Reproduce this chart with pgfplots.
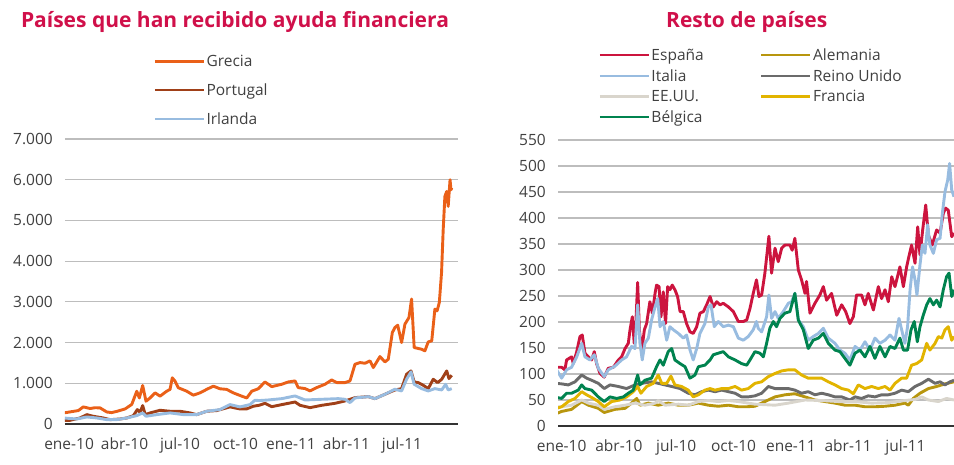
\documentclass[border=0pt]{standalone}
\usepackage{pgfplots}
\pgfplotsset{compat=1.18}
\usepackage{fontspec}
\setmainfont{Open Sans}
\definecolor{titlered}{RGB}{208,16,74}
\definecolor{grecia}{RGB}{234,96,24}
\definecolor{portugal}{RGB}{160,64,24}
\definecolor{irlanda}{RGB}{152,188,224}
\definecolor{espana}{RGB}{204,20,62}
\definecolor{italia}{RGB}{152,188,224}
\definecolor{eeuu}{RGB}{217,213,204}
\definecolor{belgica}{RGB}{0,131,79}
\definecolor{alemania}{RGB}{184,150,14}
\definecolor{reino}{RGB}{107,107,107}
\definecolor{francia}{RGB}{226,180,0}
\definecolor{txt}{RGB}{64,64,64}
\pgfplotsset{
  common/.style={
    scale only axis,
    axis x line*=bottom,
    axis y line*=left,
    y axis line style={draw=none},
    x axis line style={draw=black!80, line width=1.4pt},
    major tick length=0pt,
    ymajorgrids,
    major grid style={draw=black!26, line width=1.2pt},
    tick label style={font=\fontsize{15.5}{18}\selectfont, text=txt},
    yticklabel style={inner sep=0pt, xshift=-12pt},
    xticklabel style={inner sep=0pt, yshift=-14pt},
    /pgf/number format/1000 sep={.},
    /pgf/number format/assume math mode=true,
    xtick={0,3,6,9,12,15,18},
    xticklabels={ene-10,abr-10,jul-10,oct-10,ene-11,abr-11,jul-11},
    legend cell align=left,
    legend image code/.code={\draw[#1, line width=2.4pt] (0pt,0pt) -- (49pt,0pt);},
    every axis plot post/.append style={line width=2.9pt, line join=round, mark=none},
  }
}
\begin{document}
\begin{tikzpicture}
\path[use as bounding box] (0pt,0pt) rectangle (954pt,464pt);
\node[anchor=base, font=\bfseries\fontsize{21}{25}\selectfont, text=titlered] at (235pt,436pt) {Países que han recibido ayuda financiera};
\node[anchor=base, font=\bfseries\fontsize{21}{25}\selectfont, text=titlered] at (746.7pt,436pt) {Resto de países};
\begin{axis}[common,
  at={(65pt,40pt)}, anchor=south west, width=393pt, height=285pt,
  xmin=-0.22, xmax=21.03, ymin=0, ymax=7000,
  ytick={0,1000,2000,3000,4000,5000,6000,7000},
  legend style={at={(0.225,1.30)}, anchor=north west, draw=none, fill=none, inner sep=0pt, row sep=12.5pt,
    font=\fontsize{15.5}{18}\selectfont, text=txt, nodes={inner sep=1.5pt}},
]
\addplot[grecia] coordinates {(-0.31,270) (0.23,310) (0.5,330) (0.77,420) (1.14,380) (1.4,400) (1.68,395) (2.04,295) (2.3,280) (2.58,310) (3.03,370) (3.39,480) (3.66,805) (3.8,640) (3.98,945) (4.16,560) (4.38,640) (4.65,765) (4.92,683) (5.28,806) (5.46,850) (5.58,1135) (5.73,1053) (5.91,890) (6.36,806) (6.72,708) (7.08,765) (7.44,850) (7.80,930) (8.16,865) (8.52,850) (8.88,765) (9.34,683) (9.61,640) (9.88,806) (10.23,865) (10.59,1033) (10.96,918) (11.50,976) (11.85,1033) (12.22,1058) (12.39,894) (12.76,870) (13.03,812) (13.39,894) (13.84,976) (14.2,1082) (14.47,1017) (14.92,1017) (15.19,1058) (15.46,1468) (15.73,1509) (16.0,1492) (16.27,1550) (16.45,1386) (16.81,1656) (17.08,1525) (17.26,1590) (17.48,2247) (17.62,2370) (17.77,2427) (17.98,2000) (18.16,2452) (18.38,2616) (18.52,3070) (18.66,1878) (19.06,1837) (19.24,1796) (19.42,2017) (19.61,2042) (19.78,2821) (19.9,2780) (20.02,2985) (20.14,3717) (20.23,4776) (20.32,5590) (20.42,5713) (20.5,5346) (20.6,6000) (20.65,5750) (20.69,5800)};
\addlegendentry{Grecia}
\addplot[portugal] coordinates {(-0.31,90) (0.05,90) (0.59,148) (0.96,230) (1.31,190) (1.85,148) (2.22,107) (2.76,123) (3.12,148) (3.48,206) (3.69,354) (3.84,288) (3.98,453) (4.12,230) (4.38,272) (4.92,337) (5.46,313) (6.0,313) (6.54,272) (6.9,230) (7.44,313) (7.98,329) (8.7,420) (9.24,370) (9.6,370) (9.96,436) (10.29,461) (10.59,508) (10.96,426) (11.5,476) (12.22,541) (12.49,459) (13.03,402) (13.66,459) (14.38,508) (14.92,566) (15.46,648) (16.18,672) (16.54,623) (17.08,730) (17.62,836) (17.98,869) (18.25,1222) (18.49,1304) (18.66,1033) (18.88,1017) (19.15,951) (19.42,869) (19.69,1099) (19.93,1017) (20.15,1099) (20.42,1304) (20.54,1115) (20.69,1197)};
\addlegendentry{Portugal}
\addplot[irlanda] coordinates {(-0.31,148) (0.41,123) (0.96,173) (1.5,148) (2.04,107) (2.58,107) (3.12,148) (3.66,206) (3.98,272) (4.16,190) (4.74,230) (5.46,272) (6.18,230) (6.9,230) (7.44,313) (8.16,354) (8.7,477) (9.24,420) (9.78,477) (10.05,584) (10.29,576) (10.77,590) (11.5,623) (12.22,689) (12.76,590) (13.66,607) (14.56,623) (14.92,607) (15.19,525) (15.46,640) (16.18,672) (16.54,623) (17.08,730) (17.62,853) (17.98,812) (18.25,1099) (18.49,1280) (18.66,976) (19.06,869) (19.42,812) (19.78,869) (20.15,836) (20.36,976) (20.5,836) (20.69,869)};
\addlegendentry{Irlanda}
\end{axis}
\begin{axis}[common,
  at={(558pt,38pt)}, anchor=south west, width=396pt, height=286pt,
  xmin=-0.19, xmax=20.54, ymin=0, ymax=550,
  ytick={0,50,100,150,200,250,300,350,400,450,500,550},
  legend columns=2,
  legend style={at={(0.102,1.326)}, anchor=north west, draw=none, fill=none, inner sep=0pt, row sep=4.5pt,
    font=\fontsize{15.5}{18}\selectfont, text=txt, nodes={inner sep=1.5pt},
    /tikz/every even column/.append style={column sep=55pt}},
]
\addplot[espana] coordinates {(-0.26,113) (0,113) (0.17,108) (0.26,127) (0.52,133) (0.61,120) (0.79,143) (0.96,172) (1.08,175) (1.22,140) (1.4,133) (1.57,127) (1.71,143) (1.83,120) (2.01,101) (2.23,94) (2.44,111) (2.71,113) (2.97,127) (3.14,133) (3.32,149) (3.49,159) (3.58,185) (3.7,210) (3.8,159) (3.87,185) (3.98,276) (4.07,185) (4.19,143) (4.33,185) (4.45,197) (4.62,239) (4.75,217) (4.89,255) (4.97,271) (5.1,268) (5.2,210) (5.32,258) (5.44,197) (5.55,268) (5.67,262) (5.79,271) (5.93,262) (6.07,249) (6.2,220) (6.37,220) (6.54,197) (6.72,181) (6.89,178) (7.07,191) (7.24,217) (7.42,220) (7.59,233) (7.77,249) (7.94,229) (8.12,239) (8.29,233) (8.46,236) (8.73,229) (8.99,220) (9.25,201) (9.51,201) (9.69,204) (9.86,226) (10.03,255) (10.2,281) (10.33,249) (10.47,252) (10.64,294) (10.85,365) (10.99,294) (11.17,342) (11.34,316) (11.52,342) (11.69,348) (11.95,348) (12.07,338) (12.21,361) (12.39,300) (12.56,281) (12.74,255) (12.82,278) (13.0,217) (13.26,236) (13.52,252) (13.7,268) (13.87,242) (14.13,255) (14.4,213) (14.66,233) (14.87,220) (15.09,197) (15.27,210) (15.44,252) (15.7,252) (15.88,233) (16.05,255) (16.32,223) (16.58,268) (16.75,245) (16.93,262) (17.1,239) (17.28,287) (17.45,268) (17.71,306) (17.89,268) (18.06,306) (18.18,326) (18.32,348) (18.5,313) (18.64,383) (18.76,329) (18.9,377) (19.06,425) (19.2,367) (19.4,348) (19.63,377) (19.81,371) (19.98,409) (20.1,419) (20.24,415) (20.42,364) (20.54,371)};
\addlegendentry{España}
\addplot[alemania] coordinates {(-0.26,24) (0,28) (0.52,32) (1.05,47) (1.4,40) (1.92,34) (2.23,26) (2.79,32) (3.32,34) (3.66,44) (3.93,53) (4.1,40) (4.54,44) (5.06,40) (5.58,44) (6.11,40) (6.63,40) (7.16,44) (7.68,40) (8.2,38) (8.73,40) (9.25,37) (9.69,37) (10.12,38) (10.64,47) (11.17,56) (11.69,60) (12.21,62) (12.74,56) (13.26,50) (13.79,47) (14.31,44) (14.83,40) (15.36,40) (15.88,37) (16.4,37) (16.93,38) (17.45,40) (17.97,44) (18.15,40) (18.41,53) (18.76,63) (19.2,72) (19.63,76) (20.07,81) (20.54,85)};
\addlegendentry{Alemania}
\addplot[italia] coordinates {(-0.26,108) (0,92) (0.26,108) (0.52,113) (0.79,133) (1.05,159) (1.22,133) (1.48,127) (1.71,137) (1.92,111) (2.23,95) (2.44,108) (2.79,115) (3.14,127) (3.4,133) (3.66,153) (3.84,149) (3.98,233) (4.1,159) (4.22,127) (4.36,159) (4.54,169) (4.71,204) (4.89,229) (5.03,245) (5.15,191) (5.32,201) (5.5,165) (5.67,191) (5.85,185) (6.11,178) (6.37,169) (6.54,175) (6.72,146) (6.89,127) (7.07,149) (7.24,178) (7.5,197) (7.68,229) (7.82,233) (7.99,191) (8.2,201) (8.46,191) (8.73,194) (8.99,191) (9.25,169) (9.51,165) (9.77,172) (10.03,185) (10.2,201) (10.29,188) (10.47,181) (10.73,210) (10.85,252) (10.99,207) (11.17,220) (11.34,207) (11.6,220) (11.87,236) (12.04,239) (12.21,255) (12.39,204) (12.65,191) (12.91,165) (13.17,172) (13.44,178) (13.7,188) (13.96,169) (14.31,159) (14.57,146) (14.83,140) (15.09,127) (15.36,153) (15.62,146) (15.88,162) (16.14,146) (16.4,169) (16.66,159) (16.93,165) (17.19,175) (17.45,165) (17.66,207) (17.8,185) (17.97,159) (18.11,191) (18.24,262) (18.37,306) (18.5,281) (18.6,252) (18.76,310) (18.88,348) (19.02,332) (19.16,387) (19.28,348) (19.46,332) (19.63,358) (19.81,361) (19.93,409) (20.07,451) (20.21,473) (20.31,505) (20.42,454) (20.54,441)};
\addlegendentry{Italia}
\addplot[reino] coordinates {(-0.26,82) (0,81) (0.35,79) (0.7,85) (1.05,98) (1.31,92) (1.57,88) (1.92,82) (2.23,72) (2.53,79) (2.97,76) (3.4,72) (3.84,79) (4.19,82) (4.71,85) (5.06,82) (5.41,79) (5.76,76) (6.2,72) (6.63,63) (6.98,60) (7.33,66) (7.68,69) (8.03,66) (8.38,69) (8.73,66) (9.08,63) (9.42,56) (9.77,56) (10.12,58) (10.47,63) (10.82,76) (11.17,72) (11.52,72) (11.87,72) (12.21,69) (12.56,63) (12.91,66) (13.26,60) (13.61,63) (13.96,60) (14.31,56) (14.66,56) (15.09,50) (15.36,56) (15.7,53) (16.05,58) (16.4,56) (16.75,60) (17.1,60) (17.45,63) (17.8,69) (18.15,66) (18.5,76) (18.85,82) (19.2,90) (19.55,82) (19.81,85) (20.07,79) (20.33,85) (20.54,88)};
\addlegendentry{Reino Unido}
\addplot[eeuu] coordinates {(-0.26,37) (0,37) (0.52,40) (1.05,50) (1.4,44) (1.92,40) (2.23,32) (2.79,37) (3.32,40) (3.84,44) (4.36,40) (4.89,44) (5.06,49) (5.41,40) (6.11,42) (6.63,40) (7.16,47) (7.68,49) (8.2,47) (8.73,49) (9.25,47) (9.77,44) (10.12,42) (11.17,40) (11.87,44) (12.74,50) (13.61,49) (14.48,47) (15.36,47) (16.23,44) (17.1,45) (17.97,49) (18.5,51) (18.85,56) (19.2,50) (19.72,47) (20.15,53) (20.54,50)};
\addlegendentry{EE.UU.}
\addplot[francia] coordinates {(-0.26,34) (0,37) (0.35,47) (0.7,53) (1.05,66) (1.31,60) (1.66,53) (1.92,47) (2.23,37) (2.62,47) (3.05,50) (3.4,56) (3.75,66) (3.98,76) (4.15,63) (4.45,76) (4.8,82) (5.06,98) (5.24,82) (5.5,82) (5.72,96) (5.93,79) (6.28,76) (6.63,69) (6.89,56) (7.16,60) (7.5,69) (7.77,72) (8.03,69) (8.38,72) (8.73,72) (9.08,76) (9.42,69) (9.77,72) (10.12,82) (10.47,85) (10.82,95) (11.17,101) (11.52,106) (11.87,108) (12.21,108) (12.56,98) (12.91,92) (13.26,92) (13.61,92) (13.96,85) (14.31,79) (14.66,72) (15.01,69) (15.27,62) (15.53,79) (15.88,72) (16.23,76) (16.58,72) (16.93,76) (17.19,69) (17.45,82) (17.8,92) (18.06,92) (18.32,117) (18.58,120) (18.85,127) (19.11,159) (19.28,146) (19.55,159) (19.72,172) (19.9,169) (20.07,185) (20.24,191) (20.42,165) (20.54,172)};
\addlegendentry{Francia}
\addplot[belgica] coordinates {(-0.26,55) (0,53) (0.26,63) (0.52,63) (0.87,69) (1.05,79) (1.22,72) (1.57,69) (1.92,56) (2.23,47) (2.53,56) (2.88,53) (3.23,56) (3.49,63) (3.75,69) (3.98,98) (4.1,79) (4.36,88) (4.71,92) (4.97,114) (5.15,127) (5.32,117) (5.58,143) (5.76,149) (5.93,127) (6.2,120) (6.46,114) (6.72,92) (6.98,98) (7.16,114) (7.5,117) (7.77,127) (7.94,137) (8.2,140) (8.46,143) (8.73,133) (9.08,127) (9.42,120) (9.69,117) (9.86,127) (10.12,143) (10.38,140) (10.56,133) (10.73,159) (10.9,188) (11.08,201) (11.25,191) (11.43,207) (11.69,217) (11.95,220) (12.21,255) (12.39,204) (12.65,185) (12.91,149) (13.17,165) (13.44,169) (13.7,178) (13.96,159) (14.31,146) (14.57,143) (14.83,130) (15.09,117) (15.36,140) (15.62,146) (15.88,133) (16.14,153) (16.4,130) (16.66,153) (16.93,133) (17.19,153) (17.45,149) (17.71,169) (17.89,146) (18.11,146) (18.29,185) (18.46,201) (18.62,162) (18.76,191) (18.93,213) (19.11,233) (19.28,245) (19.46,233) (19.63,242) (19.81,229) (19.98,262) (20.15,287) (20.28,294) (20.42,249) (20.54,262)};
\addlegendentry{Bélgica}
\end{axis}
\end{tikzpicture}
\end{document}
